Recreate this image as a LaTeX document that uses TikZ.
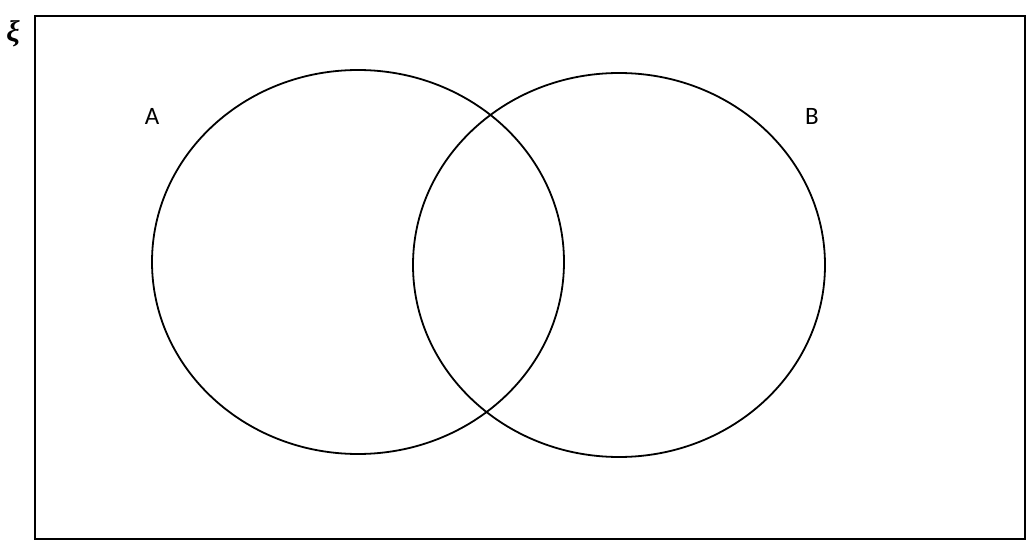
\documentclass[tikz,border=0pt]{standalone}
\usepackage{fontspec}
\setmainfont{Carlito}
\newfontfamily\xifont{Liberation Serif}
\begin{document}
\begin{tikzpicture}[x=1pt,y=-1pt,
  setline/.style={draw=black,line width=1.8pt},
  lbl/.style={font=\fontsize{25}{30}\selectfont,inner sep=0pt}]
\useasboundingbox (0,0) rectangle (1033,548);
\node[setline,minimum width=990pt,minimum height=523pt,inner sep=0pt,anchor=north west] (U) at (34,15) {};
\draw[setline] (358,262) ellipse [x radius=206, y radius=192];
\draw[setline] (619,265) ellipse [x radius=206, y radius=192];
\node[lbl] (A) at (152,116) {A};
\node[lbl] (B) at (812,116) {B};
\node[lbl,font=\xifont\fontsize{30}{34}\selectfont\bfseries\itshape] (xi) at (13,34) {ξ};
\end{tikzpicture}
\end{document}
